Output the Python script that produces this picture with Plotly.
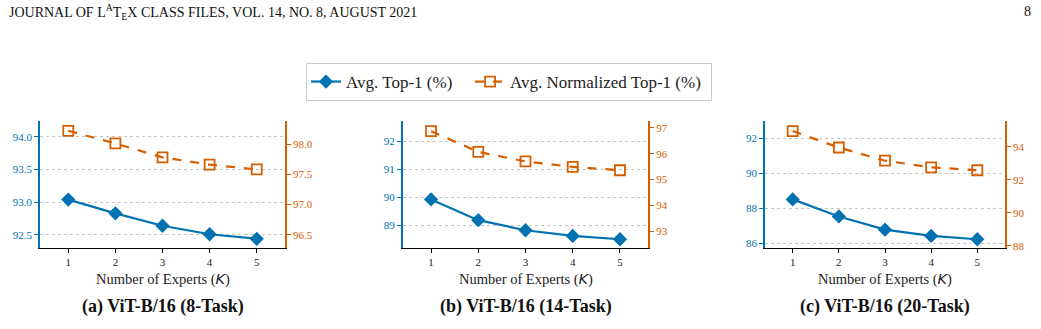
import plotly.graph_objects as go

experts = [1, 2, 3, 4, 5]
panel_titles = ["(a) ViT-B/16 (8-Task)", "(b) ViT-B/16 (14-Task)", "(c) ViT-B/16 (20-Task)"]
top1_8 = [93.04, 92.83, 92.64, 92.51, 92.44]
norm_8 = [98.22, 98.01, 97.78, 97.66, 97.58]
top1_14 = [89.93, 89.19, 88.83, 88.63, 88.51]
norm_14 = [96.87, 96.07, 95.70, 95.49, 95.36]
top1_20 = [88.51, 87.53, 86.77, 86.41, 86.22]
norm_20 = [94.96, 93.96, 93.16, 92.76, 92.58]

left_ticks = [[92.5, 93.0, 93.5, 94.0], [89, 90, 91, 92], [86, 88, 90, 92]]
right_ticks = [[96.5, 97.0, 97.5, 98.0], [93, 94, 95, 96, 97], [88, 90, 92, 94]]
left_ranges = [[92.30, 94.25], [88.20, 92.74], [85.72, 93.04]]
right_ranges = [[96.28, 98.39], [92.36, 97.28], [87.86, 95.60]]
tick_fmt = [".1f", "d", "d"]

BLUE = "#0072B2"
ORANGE = "#D55E00"
SERIF = "Liberation Serif, Times New Roman, serif"
W, H = 1041, 329

domains = [(40, 285), (402.7, 648.3), (765, 1005)]
ydom = [1 - 251 / H, 1 - 122 / H]

tops = [top1_8, top1_14, top1_20]
norms = [norm_8, norm_14, norm_20]

fig = go.Figure()
layout = dict(
    width=W, height=H, margin=dict(l=0, r=0, t=0, b=0),
    paper_bgcolor="white", plot_bgcolor="white",
    font=dict(family=SERIF, color="#222"),
    showlegend=True,
    legend=dict(orientation="h", x=509 / W, y=1 - 83 / H, xanchor="center", yanchor="middle",
                bordercolor="#cccccc", borderwidth=1, font=dict(size=17, family=SERIF, color="#222"),
                tracegroupgap=0),
)

for i in range(3):
    xn = "x" if i == 0 else f"x{i+1}"
    yl = f"y{2*i+1}" if i > 0 else "y"
    yr = f"y{2*i+2}"
    fig.add_trace(go.Scatter(
        x=experts, y=tops[i], xaxis=xn, yaxis=yl, mode="lines+markers",
        name="Avg. Top-1 (%)&nbsp;&nbsp;&nbsp;", showlegend=(i == 0), legendgroup="a",
        line=dict(color=BLUE, width=2.2),
        marker=dict(symbol="diamond", size=11, color=BLUE, line=dict(width=0)),
    ))
    fig.add_trace(go.Scatter(
        x=experts, y=norms[i], xaxis=xn, yaxis=yr, mode="lines+markers",
        name="Avg. Normalized Top-1 (%)&nbsp;", showlegend=(i == 0), legendgroup="b",
        line=dict(color=ORANGE, width=2.2, dash="dash"),
        marker=dict(symbol="square-open", size=10, color=ORANGE, line=dict(width=1.8, color=ORANGE)),
    ))
    xkey = "xaxis" if i == 0 else f"xaxis{i+1}"
    ylkey = "yaxis" if i == 0 else f"yaxis{2*i+1}"
    yrkey = f"yaxis{2*i+2}"
    ylref = "y" if i == 0 else f"y{2*i+1}"
    layout[xkey] = dict(
        domain=[domains[i][0] / W, domains[i][1] / W], anchor=ylref,
        range=[0.4, 5.6], tickvals=experts, showgrid=False, zeroline=False,
        showline=True, linecolor="black", linewidth=1,
        ticks="outside", ticklen=4, tickcolor="black",
        tickfont=dict(size=11, family=SERIF, color="#222"),
    )
    layout[ylkey] = dict(
        domain=ydom, anchor=xn, range=left_ranges[i], tickvals=left_ticks[i],
        tickformat=tick_fmt[i], showgrid=True, gridcolor="#c4c4c4", griddash="dot", gridwidth=1,
        zeroline=False, showline=True, linecolor=BLUE, linewidth=1.5,
        ticks="outside", ticklen=4, tickcolor=BLUE,
        tickfont=dict(size=11, family=SERIF, color=BLUE),
    )
    layout[yrkey] = dict(
        domain=ydom, anchor=xn, overlaying=ylref, side="right",
        range=right_ranges[i], tickvals=right_ticks[i], tickformat=tick_fmt[i],
        showgrid=False, zeroline=False, showline=True, linecolor=ORANGE, linewidth=1.5,
        ticks="outside", ticklen=4, tickcolor=ORANGE,
        tickfont=dict(size=11, family=SERIF, color=ORANGE),
    )

fig.update_layout(**layout)

annotations = []
for i in range(3):
    cx = (domains[i][0] + domains[i][1]) / 2 / W
    annotations.append(dict(
        x=cx, y=1 - 283 / H, xref="paper", yref="paper", showarrow=False,
        xanchor="center", yanchor="middle",
        text="Number of Experts (<span style='font-family:DejaVu Sans'><i>K</i></span>)",
        font=dict(size=14.5, family=SERIF, color="#222"),
    ))
    annotations.append(dict(
        x=cx, y=1 - 310 / H, xref="paper", yref="paper", showarrow=False,
        xanchor="center", yanchor="middle",
        text="<b>" + panel_titles[i] + "</b>",
        font=dict(size=18, family=SERIF, color="#111"),
    ))
annotations.append(dict(
    x=7 / W, y=1 - 12 / H, xref="paper", yref="paper", showarrow=False,
    xanchor="left", yanchor="middle",
    text="JOURNAL OF L<sup>A</sup>T<sub>E</sub>X CLASS FILES, VOL. 14, NO. 8, AUGUST 2021",
    font=dict(size=14, family=SERIF, color="#111"),
))
annotations.append(dict(
    x=1033 / W, y=1 - 12 / H, xref="paper", yref="paper", showarrow=False,
    xanchor="right", yanchor="middle", text="8",
    font=dict(size=14, family=SERIF, color="#111"),
))
fig.update_layout(annotations=annotations)

fig.write_html("out.html")
